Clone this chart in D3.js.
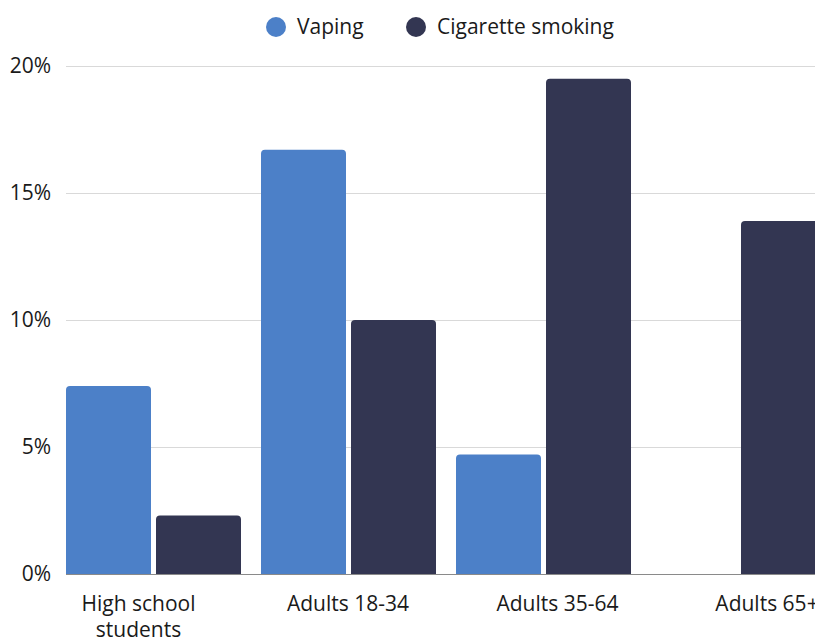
<!DOCTYPE html>
<html>
<head>
<meta charset="utf-8">
<script src="https://cdn.jsdelivr.net/npm/d3@7"></script>
<style>
  body { margin: 0; background: #fff; }
  svg { display: block; font-family: "Open Sans", sans-serif; }
</style>
</head>
<body>
<svg width="815" height="637"></svg>
<script>
var categories = ['High school students', 'Adults 18-34', 'Adults 35-64', 'Adults 65+'];
var seriesNames = ['Vaping', 'Cigarette smoking'];
var vaping = [7.4, 16.7, 4.7, 0];
var smoking = [2.3, 10.0, 19.5, 13.9];
var yTicks = [0, 5, 10, 15, 20];
var colors = ['#4c80c8', '#333652'];

var table = categories.map(function(c, i) {
  return { cat: c, values: [vaping[i], smoking[i]] };
});

const svg = d3.select('svg');
const plotLeft = 66, plotTop = 66, plotBottom = 574;

const yScale = d3.scaleLinear()
  .domain([0, 20])
  .range([plotBottom, plotTop]);

// group step 195px, 20px gap between groups, chart runs past the right edge
const xScale = d3.scaleBand()
  .domain(categories)
  .range([plotLeft, plotLeft + 4 * 195 - 20])
  .paddingInner(20 / 195)
  .paddingOuter(0);

const xSub = d3.scaleBand()
  .domain(seriesNames)
  .range([0, xScale.bandwidth()])
  .paddingInner(5 / 90);

// labels sit on their own spacing in the original
const labelScale = d3.scalePoint()
  .domain(categories)
  .range([138.5, 138.5 + 3 * 209.5]);

// grid
svg.append('g')
  .selectAll('line')
  .data(yTicks.filter(function(t) { return t > 0; }))
  .enter()
  .append('line')
  .attr('x1', plotLeft)
  .attr('x2', 815)
  .attr('y1', function(d) { return yScale(d) + 0.5; })
  .attr('y2', function(d) { return yScale(d) + 0.5; })
  .attr('stroke', '#d9d9d9')
  .attr('stroke-width', 1);

// y labels
svg.append('g')
  .selectAll('text')
  .data(yTicks)
  .enter()
  .append('text')
  .attr('x', 51)
  .attr('y', function(d) { return yScale(d) + 7; })
  .attr('text-anchor', 'end')
  .attr('font-size', 21)
  .attr('fill', '#1a1a1a')
  .text(function(d) { return d + '%'; });

function barPath(x, y, w, h, r) {
  r = Math.min(r, h, w / 2);
  if (h <= 0) return '';
  return 'M' + x + ',' + (y + h) +
    'V' + (y + r) +
    'Q' + x + ',' + y + ' ' + (x + r) + ',' + y +
    'H' + (x + w - r) +
    'Q' + (x + w) + ',' + y + ' ' + (x + w) + ',' + (y + r) +
    'V' + (y + h) + 'Z';
}

// bars
const groups = svg.append('g')
  .selectAll('g')
  .data(table)
  .enter()
  .append('g')
  .attr('transform', function(d) { return 'translate(' + xScale(d.cat) + ',0)'; });

groups.selectAll('path')
  .data(function(d) { return d.values.map(function(v, i) { return { name: seriesNames[i], v: v, i: i }; }); })
  .enter()
  .append('path')
  .attr('fill', function(d) { return colors[d.i]; })
  .attr('d', function(d) {
    var y = yScale(d.v);
    return barPath(xSub(d.name), y, xSub.bandwidth(), plotBottom - y, 4);
  });

// baseline
svg.append('line')
  .attr('x1', plotLeft)
  .attr('x2', 815)
  .attr('y1', plotBottom + 0.5)
  .attr('y2', plotBottom + 0.5)
  .attr('stroke', '#8a8a8a')
  .attr('stroke-width', 1);

// x labels
const xl = svg.append('g')
  .selectAll('text')
  .data(categories)
  .enter()
  .append('text')
  .attr('x', function(d) { return labelScale(d); })
  .attr('y', 611)
  .attr('text-anchor', 'middle')
  .attr('font-size', 21)
  .attr('fill', '#1a1a1a');

xl.each(function(d) {
  var lines = d === 'High school students' ? ['High school', 'students'] : [d];
  var t = d3.select(this);
  lines.forEach(function(l, i) {
    t.append('tspan')
      .attr('x', labelScale(d))
      .attr('dy', i === 0 ? 0 : 26)
      .text(l);
  });
});

// legend
const legend = svg.append('g');
var legendX = [276, 416];
seriesNames.forEach(function(n, i) {
  legend.append('circle')
    .attr('cx', legendX[i])
    .attr('cy', 27)
    .attr('r', 10)
    .attr('fill', colors[i]);
  legend.append('text')
    .attr('x', legendX[i] + 21)
    .attr('y', 34)
    .attr('font-size', 21)
    .attr('fill', '#1a1a1a')
    .text(n);
});
</script>
</body>
</html>
